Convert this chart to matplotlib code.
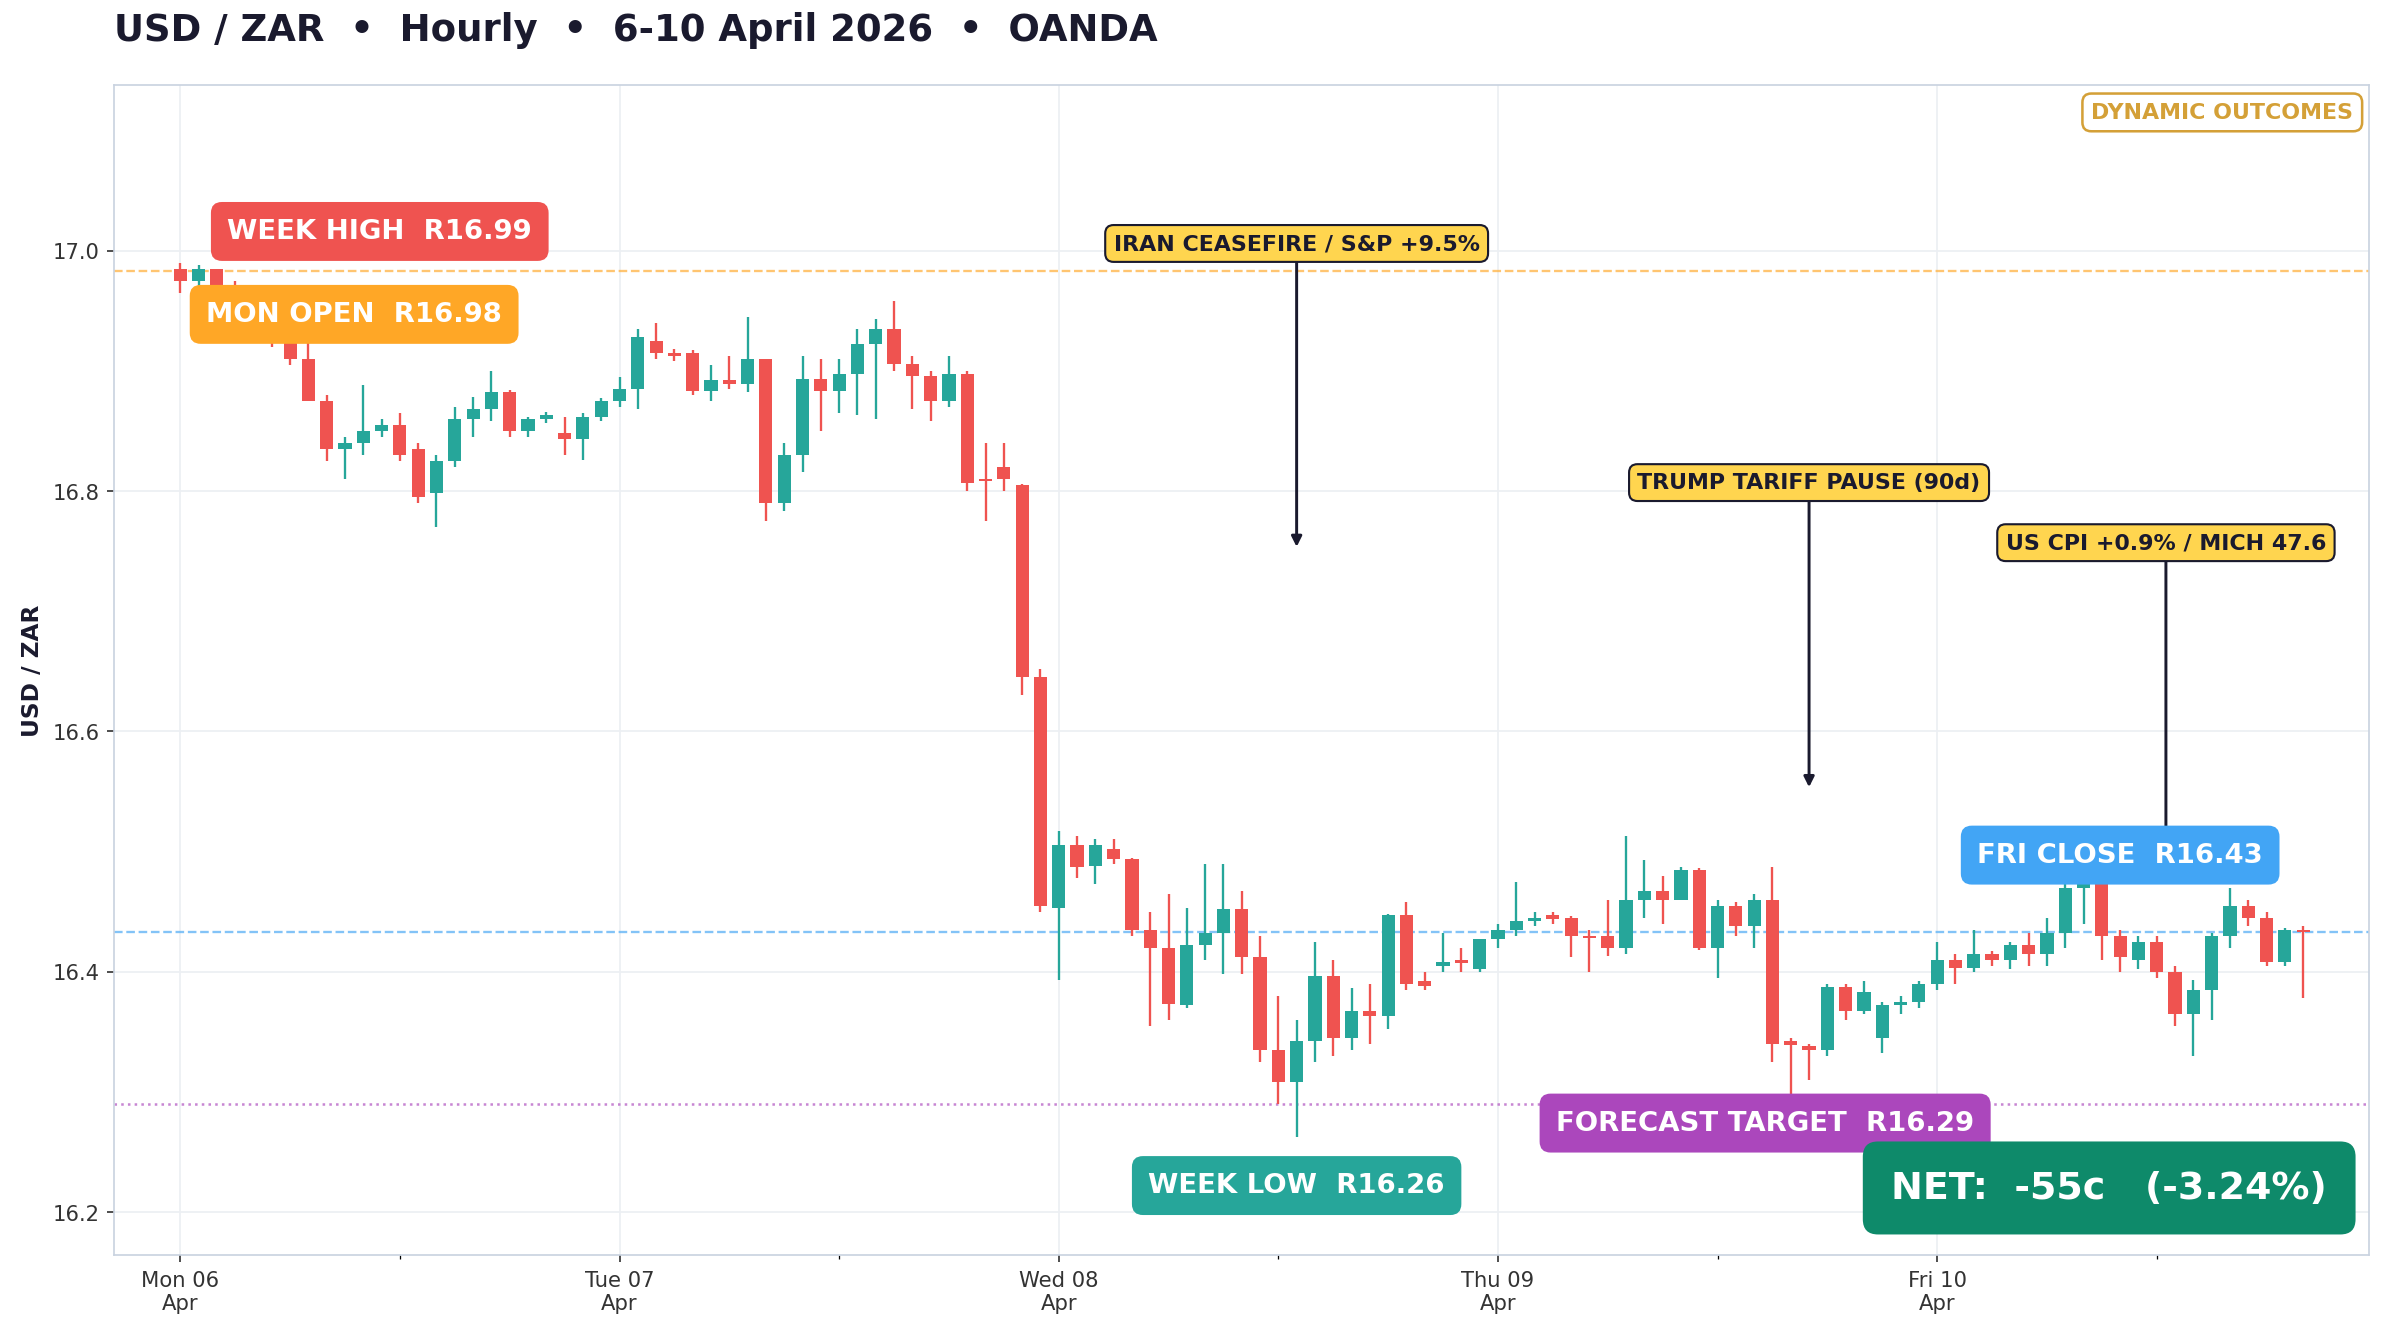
import matplotlib
matplotlib.use("Agg")
import matplotlib.pyplot as plt
import numpy as np

opens = [16.985,16.975,16.985,16.96,16.95,16.94,16.93,16.91,16.875,16.835,16.84,16.85,16.855,16.835,16.798,16.825,16.86,16.868,16.882,16.85,16.86,16.848,16.843,16.862,
16.875,16.885,16.925,16.915,16.915,16.883,16.892,16.889,16.91,16.79,16.83,16.893,16.883,16.897,16.922,16.935,16.906,16.896,16.875,16.897,16.81,16.82,16.805,16.645,
16.453,16.505,16.488,16.502,16.494,16.435,16.42,16.372,16.422,16.432,16.452,16.412,16.335,16.308,16.342,16.396,16.345,16.367,16.363,16.447,16.392,16.405,16.41,16.402,
16.427,16.435,16.442,16.447,16.445,16.43,16.43,16.42,16.46,16.467,16.46,16.485,16.42,16.455,16.438,16.46,16.342,16.338,16.335,16.387,16.367,16.345,16.372,16.375,
16.39,16.41,16.403,16.415,16.41,16.422,16.415,16.432,16.47,16.48,16.43,16.41,16.425,16.4,16.365,16.385,16.43,16.455,16.445,16.408,16.435]
closes = [16.975,16.985,16.96,16.95,16.94,16.93,16.91,16.875,16.835,16.84,16.85,16.855,16.83,16.795,16.825,16.86,16.868,16.882,16.85,16.86,16.863,16.843,16.862,16.875,
16.885,16.928,16.915,16.912,16.883,16.892,16.889,16.91,16.79,16.83,16.893,16.883,16.897,16.922,16.935,16.906,16.896,16.875,16.897,16.807,16.808,16.81,16.645,16.455,
16.505,16.487,16.505,16.494,16.435,16.42,16.373,16.422,16.432,16.452,16.412,16.335,16.308,16.342,16.396,16.345,16.367,16.363,16.447,16.39,16.388,16.408,16.407,16.427,
16.435,16.442,16.445,16.444,16.43,16.428,16.42,16.46,16.467,16.46,16.485,16.42,16.455,16.438,16.46,16.34,16.339,16.335,16.387,16.367,16.383,16.372,16.375,16.39,
16.41,16.403,16.415,16.41,16.422,16.415,16.432,16.47,16.48,16.43,16.412,16.425,16.4,16.365,16.385,16.43,16.455,16.445,16.408,16.435,16.433]
highs = [16.99,16.988,16.985,16.975,16.96,16.95,16.935,16.925,16.88,16.845,16.888,16.86,16.865,16.84,16.83,16.87,16.878,16.9,16.884,16.862,16.866,16.862,16.865,16.877,
16.895,16.935,16.94,16.918,16.917,16.905,16.912,16.945,16.91,16.84,16.912,16.91,16.91,16.935,16.943,16.958,16.912,16.9,16.912,16.9,16.84,16.84,16.806,16.652,
16.517,16.513,16.51,16.51,16.495,16.45,16.465,16.453,16.49,16.49,16.467,16.43,16.38,16.36,16.425,16.41,16.386,16.39,16.448,16.458,16.4,16.432,16.42,16.427,
16.44,16.475,16.45,16.45,16.446,16.435,16.46,16.513,16.493,16.48,16.487,16.486,16.46,16.458,16.465,16.487,16.345,16.34,16.39,16.39,16.392,16.375,16.38,16.392,
16.425,16.415,16.435,16.417,16.425,16.432,16.445,16.475,16.49,16.49,16.435,16.43,16.43,16.405,16.393,16.432,16.47,16.46,16.45,16.436,16.438]
lows = [16.965,16.97,16.95,16.94,16.93,16.92,16.905,16.875,16.825,16.81,16.83,16.845,16.825,16.79,16.77,16.82,16.845,16.858,16.845,16.845,16.857,16.83,16.826,16.858,
16.87,16.868,16.91,16.908,16.88,16.875,16.885,16.882,16.775,16.783,16.816,16.85,16.865,16.863,16.86,16.9,16.868,16.858,16.87,16.8,16.775,16.8,16.63,16.45,
16.393,16.478,16.473,16.49,16.43,16.355,16.36,16.37,16.41,16.398,16.398,16.325,16.29,16.262,16.325,16.33,16.335,16.34,16.352,16.385,16.385,16.4,16.4,16.4,
16.42,16.43,16.438,16.44,16.412,16.4,16.413,16.415,16.445,16.44,16.46,16.418,16.395,16.43,16.42,16.325,16.29,16.31,16.33,16.36,16.365,16.332,16.365,16.37,
16.385,16.39,16.4,16.405,16.402,16.405,16.405,16.42,16.44,16.41,16.4,16.402,16.395,16.355,16.33,16.36,16.42,16.438,16.405,16.405,16.378]
day_labels = ["Mon 06\nApr", "Tue 07\nApr", "Wed 08\nApr", "Thu 09\nApr", "Fri 10\nApr"]
week_high, mon_open, week_low, fri_close, target = 16.99, 16.98, 16.26, 16.43, 16.29

UP, DN = "#26A69A", "#EF5350"
fig = plt.figure(figsize=(15.68, 8.78), dpi=152)
ax = fig.add_axes([0.048, 0.059, 0.946, 0.877])
x = np.arange(len(opens))
for i in x:
    o, c, h, l = opens[i], closes[i], highs[i], lows[i]
    col = UP if c >= o else DN
    ax.vlines(i, l, h, color=col, lw=1.1, zorder=3)
    ax.bar(i, max(abs(c - o), 0.002), bottom=min(o, c), width=0.72, color=col, zorder=4)

ax.axhline(16.983, color="#FFB74D", ls="--", lw=1.1, alpha=0.8, zorder=2)
ax.axhline(fri_close + 0.003, color="#64B5F6", ls="--", lw=1.1, alpha=0.8, zorder=2)
ax.axhline(target, color="#BA68C8", ls=":", lw=1.2, alpha=0.8, zorder=2)

ax.set_xlim(-3.6, 119.6)
ax.set_ylim(16.164, 17.138)
ax.set_xticks(np.arange(0, 120, 24))
ax.set_xticklabels(day_labels, fontsize=10)
ax.set_xticks(np.arange(12, 120, 24), minor=True)
ax.set_yticks([16.2, 16.4, 16.6, 16.8, 17.0])
ax.set_yticklabels(["16.2", "16.4", "16.6", "16.8", "17.0"], fontsize=10)
ax.grid(True, color="#ECEFF3", lw=0.8, zorder=0)
ax.set_axisbelow(True)
for s in ax.spines.values():
    s.set_color("#C9D3E0")
ax.tick_params(colors="#333333")
ax.set_ylabel("USD / ZAR", fontsize=11, fontweight="bold", color="#1a1a2e")
fig.text(0.048, 0.977, "USD / ZAR  •  Hourly  •  6-10 April 2026  •  OANDA",
         fontsize=17.5, fontweight="bold", color="#1a1a2e", va="center")

def tag(xx, yy, txt, col, fs=13, pad=0.6):
    ax.text(xx, yy, txt, ha="center", va="center", fontsize=fs, fontweight="bold", color="white",
            zorder=6, bbox=dict(boxstyle=f"round,pad={pad},rounding_size=0.4", fc=col, ec="none"))

tag(10.9, 17.016, f"WEEK HIGH  R{week_high:.2f}", DN)
tag(9.5, 16.947, f"MON OPEN  R{mon_open:.2f}", "#FFA726")
tag(61, 16.222, f"WEEK LOW  R{week_low:.2f}", UP)
tag(86.6, 16.274, f"FORECAST TARGET  R{target:.2f}", "#AB47BC")
tag(106, 16.497, f"FRI CLOSE  R{fri_close:.2f}", "#42A5F5")
tag(105.4, 16.22, "NET:  -55c   (-3.24%)", "#0E8A6A", fs=18, pad=0.75)

def event(xx, ytxt, ytip, txt):
    ax.annotate("", xy=(xx, ytip), xytext=(xx, ytxt - 0.012),
                arrowprops=dict(arrowstyle="-|>", color="#1a1a2e", lw=1.4), zorder=5)
    ax.text(xx, ytxt, txt, ha="center", va="center", fontsize=10.5, fontweight="bold", color="#1a1a2e",
            zorder=6, bbox=dict(boxstyle="round,pad=0.38", fc="#FFD54F", ec="#1a1a2e", lw=1))

event(61, 17.006, 16.75, "IRAN CEASEFIRE / S&P +9.5%")
event(89, 16.807, 16.55, "TRUMP TARIFF PAUSE (90d)")
event(108.5, 16.757, 16.49, "US CPI +0.9% / MICH 47.6")

ax.text(0.993, 0.985, "DYNAMIC OUTCOMES", transform=ax.transAxes, ha="right", va="top",
        fontsize=10.5, fontweight="bold", color="#D4A037",
        bbox=dict(boxstyle="round,pad=0.4", fc="white", ec="#D4A037", lw=1.2))
fig.savefig("out.png", dpi=152, facecolor="white")
